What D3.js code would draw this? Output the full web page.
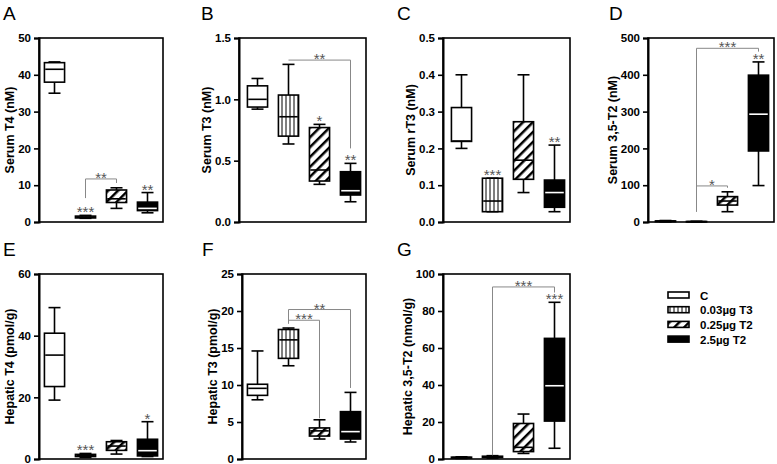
<!DOCTYPE html>
<html><head><meta charset="utf-8">
<script src="https://cdn.jsdelivr.net/npm/d3@7"></script>
<style>body{margin:0;background:#fff}svg{display:block;font-family:"Liberation Sans",Arial,sans-serif}</style>
</head><body><svg id="c" width="777" height="464"></svg>
<script>
// ---- data: [min, q1, median, q3, max] per group ----
const groups = ["C", "0.03µg T3", "0.25µg T2", "2.5µg T2"];
const serumT4   = [[35,38,41.5,43.3,43.5],[1.0,1.1,1.3,1.6,1.8],[3.7,5.3,6.3,8.7,9.3],[2.5,3.1,3.7,5.4,8.0]];
const serumT3   = [[0.92,0.937,1.0,1.11,1.17],[0.636,0.70,0.858,1.035,1.285],[0.307,0.334,0.424,0.77,0.796],[0.165,0.22,0.255,0.41,0.478]];
const serumRT3  = [[0.20,0.219,0.22,0.311,0.40],[0.028,0.028,0.057,0.119,0.119],[0.08,0.116,0.168,0.2725,0.40],[0.028,0.04,0.08,0.114,0.209]];
const serumT2   = [[0.5,1,2,3,4],[0.3,0.6,1,1.5,2],[28,46,57,69,82],[99,193,293,399,435]];
const hepaticT4 = [[19.1,23.5,33.7,40.8,49.1],[0.5,0.8,1.1,1.5,1.8],[1.6,2.8,4.2,5.6,6.0],[0.8,1.0,2.7,6.4,12.1]];
const hepaticT3 = [[8.0,8.6,9.55,10.1,14.6],[12.6,13.6,16.1,17.5,17.7],[2.7,3.1,3.8,4.2,5.3],[2.3,2.7,3.7,6.4,9.0]];
const hepaticT2 = [[0.3,0.5,0.8,1.0,1.2],[0.5,0.8,1.1,1.5,1.8],[3,4,6.3,19.2,24.3],[5.8,20.5,39.6,65.2,84.7]];
// tick values
const ticksT4 = [0,10,20,30,40,50];
const ticksT3 = [0,0.5,1.0,1.5];
const ticksRT3 = [0,0.1,0.2,0.3,0.4,0.5];
const ticksT2 = [0,100,200,300,400,500];
const ticksHT4 = [0,20,40,60];
const ticksHT3 = [0,5,10,15,20,25];
const ticksHT2 = [0,20,40,60,80,100];
// significance: stars above a group [group, label]; brackets [from, to, yFrom, yTop, yTo, label]
const starsA = [[1,"***"],[3,"**"]];
const bracketsA = [[1,2,6.5,11.7,10.6,"**"]];
const starsB = [[2,"*"],[3,"**"]];
const bracketsB = [[1,3,1.32,1.32,0.6,"**"]];
const starsC = [[1,"***"],[3,"**"]];
const bracketsC = [];
const starsD = [[3,"**"]];
const bracketsD = [[1,2,28,98,93,"*"],[1,3,28,472,463,"***"]];
const starsE = [[1,"***"],[3,"*"]];
const bracketsE = [];
const starsF = [];
const bracketsF = [[1,2,18.3,18.75,5.5,"***"],[1,3,18.3,20.2,9.6,"**"]];
const starsG = [[3,"***"]];
const bracketsG = [[1,3,2,93,90,"***"]];

const svg = d3.select("#c");
const defs = svg.append("defs");
// vertical-line pattern
const pv = defs.append("pattern").attr("id","pv").attr("patternUnits","userSpaceOnUse").attr("width",4).attr("height",4);
pv.append("rect").attr("width",4).attr("height",4).attr("fill","#fff");
pv.append("line").attr("x1",2).attr("x2",2).attr("y1",0).attr("y2",4).attr("stroke","#000").attr("stroke-width",1);
// diagonal pattern
const pd = defs.append("pattern").attr("id","pd").attr("patternUnits","userSpaceOnUse").attr("width",7).attr("height",7).attr("patternTransform","rotate(45)");
pd.append("rect").attr("width",7).attr("height",7).attr("fill","#fff");
pd.append("line").attr("x1",0).attr("x2",0).attr("y1",0).attr("y2",7).attr("stroke","#000").attr("stroke-width",5);

const fills = ["#fff","url(#pv)","url(#pd)","#000"];
const medColor = ["#000","#000","#000","#fff"];

const panels = [
  {L:"A", title:"Serum T4 (nM)", data:serumT4, ticks:ticksT4, fmt:d3.format("d"), max:50, x0:39, x1:163, yT:38, yB:222, lx:3, stars:starsA, br:bracketsA},
  {L:"B", title:"Serum T3 (nM)", data:serumT3, ticks:ticksT3, fmt:d3.format(".1f"), max:1.5, x0:239, x1:366, yT:38, yB:222, lx:201, stars:starsB, br:bracketsB},
  {L:"C", title:"Serum rT3 (nM)", data:serumRT3, ticks:ticksRT3, fmt:d3.format(".1f"), max:0.5, x0:443, x1:570, yT:38, yB:222, lx:397, stars:starsC, br:bracketsC},
  {L:"D", title:"Serum 3,5-T2 (nM)", data:serumT2, ticks:ticksT2, fmt:d3.format("d"), max:500, x0:648, x1:774, yT:38, yB:222, lx:609, stars:starsD, br:bracketsD},
  {L:"E", title:"Hepatic T4 (pmol/g)", data:hepaticT4, ticks:ticksHT4, fmt:d3.format("d"), max:60, x0:39, x1:163, yT:274, yB:459, lx:3, stars:starsE, br:bracketsE},
  {L:"F", title:"Hepatic T3 (pmol/g)", data:hepaticT3, ticks:ticksHT3, fmt:d3.format("d"), max:25, x0:242, x1:366, yT:274, yB:459, lx:202, stars:starsF, br:bracketsF},
  {L:"G", title:"Hepatic 3,5-T2 (nmol/g)", data:hepaticT2, ticks:ticksHT2, fmt:d3.format("d"), max:100, x0:443, x1:570, yT:274, yB:459, lx:397, stars:starsG, br:bracketsG}
];

panels.forEach(p => {
  const g = svg.append("g");
  const y = d3.scaleLinear().domain([0,p.max]).range([p.yB,p.yT]);
  const x = d3.scaleBand().domain(d3.range(4)).range([p.x1-124,p.x1]).paddingInner(0.35).paddingOuter(0.175);
  const bw = x.bandwidth(), cx = i => x(i)+bw/2;
  // frame
  g.append("rect").attr("x",p.x0).attr("y",p.yT).attr("width",p.x1-p.x0).attr("height",p.yB-p.yT)
    .attr("fill","none").attr("stroke","#000").attr("stroke-width",1.6);
  // axis
  const ax = g.append("g").attr("transform",`translate(${p.x0},0)`)
    .call(d3.axisLeft(y).tickValues(p.ticks).tickFormat(p.fmt).tickSize(5).tickPadding(3));
  ax.select(".domain").attr("stroke-width",2);
  ax.selectAll(".tick line").attr("stroke-width",1.6);
  ax.selectAll("text").attr("font-size",11.5).attr("font-weight","bold").attr("font-family","Liberation Sans, Arial, sans-serif").attr("fill","#000");
  const bb = ax.node().getBBox();
  g.append("text").attr("transform",`translate(${p.x0+bb.x-4},${(p.yT+p.yB)/2}) rotate(-90)`)
    .attr("text-anchor","middle").attr("font-size",12.5).attr("font-weight","bold").text(p.title);
  // letter
  svg.append("text").attr("x",p.lx).attr("y",p.yT-18).attr("font-size",19).text(p.L);
  // boxes
  p.data.forEach((d,i) => {
    const [mn,q1,md,q3,mx] = d, c = cx(i), cap = 6;
    const bg = g.append("g").attr("stroke","#000").attr("stroke-width",1.6);
    bg.append("line").attr("x1",c).attr("x2",c).attr("y1",y(mx)).attr("y2",y(q3));
    bg.append("line").attr("x1",c).attr("x2",c).attr("y1",y(q1)).attr("y2",y(mn));
    bg.append("line").attr("x1",c-cap).attr("x2",c+cap).attr("y1",y(mx)).attr("y2",y(mx));
    bg.append("line").attr("x1",c-cap).attr("x2",c+cap).attr("y1",y(mn)).attr("y2",y(mn));
    bg.append("rect").attr("x",x(i)).attr("width",bw).attr("y",y(q3)).attr("height",Math.max(y(q1)-y(q3),0.5)).attr("fill",fills[i]);
    bg.append("line").attr("x1",x(i)+0.8).attr("x2",x(i)+bw-0.8).attr("y1",y(md)).attr("y2",y(md)).attr("stroke",medColor[i]);
  });
  // stars
  p.stars.forEach(([i,lab]) => {
    g.append("text").attr("x",cx(i)).attr("y",y(p.data[i][4])+2).attr("text-anchor","middle")
      .attr("font-size",15).attr("fill","#555").text(lab);
  });
  p.br.forEach(([a,b,y0,yt,y1,lab]) => {
    g.append("path").attr("d",`M${cx(a)},${y(y0)}V${y(yt)}H${cx(b)}V${y(y1)}`)
      .attr("fill","none").attr("stroke","#888").attr("stroke-width",1);
    g.append("text").attr("x",(cx(a)+cx(b))/2).attr("y",y(yt)+4).attr("text-anchor","middle")
      .attr("font-size",15).attr("fill","#555").text(lab);
  });
});

// legend
const lg = svg.append("g");
groups.forEach((name,i) => {
  const yy = 295 + i*14.7;
  lg.append("rect").attr("x",668).attr("y",yy-3).attr("width",21).attr("height",6).attr("fill",fills[i]).attr("stroke","#000").attr("stroke-width",1.6);
  lg.append("text").attr("x",700).attr("y",yy+4.5).attr("font-size",11.5).attr("font-weight","bold").text(name);
});
</script></body></html>
